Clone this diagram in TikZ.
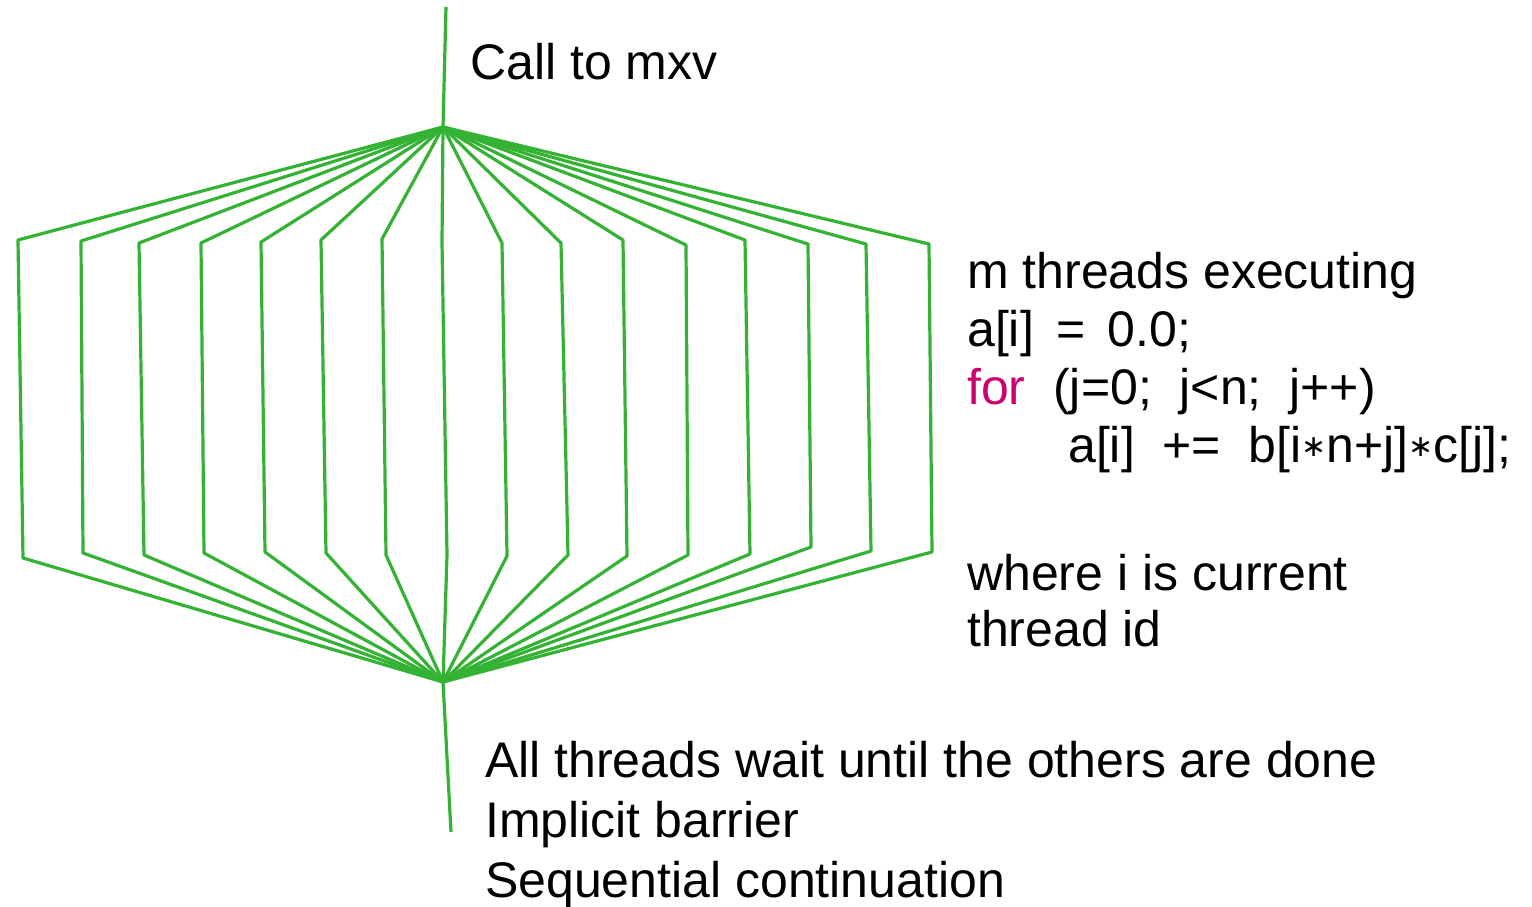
\documentclass[tikz,border=0pt]{standalone}
\usepackage{fontspec}
\setmainfont{Liberation Sans}
\newfontfamily\symfont{DejaVu Sans}
\usepackage{xcolor}
\definecolor{threadgreen}{RGB}{51,178,51}
\definecolor{keyword}{RGB}{204,0,110}
\newcommand{\mulop}{\raisebox{6pt}{\fontsize{30}{30}\selectfont\symfont ∗}}

\begin{document}
\begin{tikzpicture}[
  x=1pt, y=-1pt,
  thread/.style = {draw=threadgreen, line width=3.2pt, line join=round},
  txt/.style    = {anchor=base west, inner sep=0pt,
                   font=\fontsize{50}{58}\selectfont}
]
  \useasboundingbox (0,0) rectangle (1532,906);
  \coordinate (entry) at (446,7);
  \coordinate (fork)  at (443,127);
  \coordinate (join)  at (443,682);
  \coordinate (exit)  at (451,832);

  % fork, m threads, join
  \draw[thread] (entry) -- (fork);
  \foreach \xa/\ya/\xb/\yb [count=\i] in {
      18/240/23/558, 81/241/83/553, 139/243/144/555, 201/243/204/553,
      261/242/265/552, 321/240/326/553, 382/239/386/555, 442/242/447/555,
      502/243/507/556, 561/243/568/555, 623/240/627/556, 686/245/688/555,
      745/240/750/554, 808/244/811/547, 866/244/871/551, 929/244/932/552}{
    \coordinate (t\i-top) at (\xa,\ya);
    \coordinate (t\i-bot) at (\xb,\yb);
    \draw[thread] (fork) -- (t\i-top) -- (t\i-bot) -- (join);
  }
  \draw[thread] (join) -- (exit);

  \node[txt] (call) at (470,79) {Call to mxv};

  \node[txt] (code1) at (967,288) {m threads executing};
  \node[txt] (code2) at (967,346) {a[i]\ \,=\ \,0.0;};
  \node[txt] (code3) at (967,404) {\textcolor{keyword}{for}\ \ (j=0;\ \ j<n;\ \ j++)};
  \node[txt] (code4) at (1068,462) {a[i]\ \ +=\ \ b[i\mulop n+j]\mulop c[j];};
  \node[txt] (where1) at (967,590) {where i is current};
  \node[txt] (where2) at (967,646) {thread id};

  \node[txt] (done1) at (485,777) {All threads wait until the others are done};
  \node[txt] (done2) at (485,837) {Implicit barrier};
  \node[txt] (done3) at (485,897) {Sequential continuation};
\end{tikzpicture}
\end{document}
